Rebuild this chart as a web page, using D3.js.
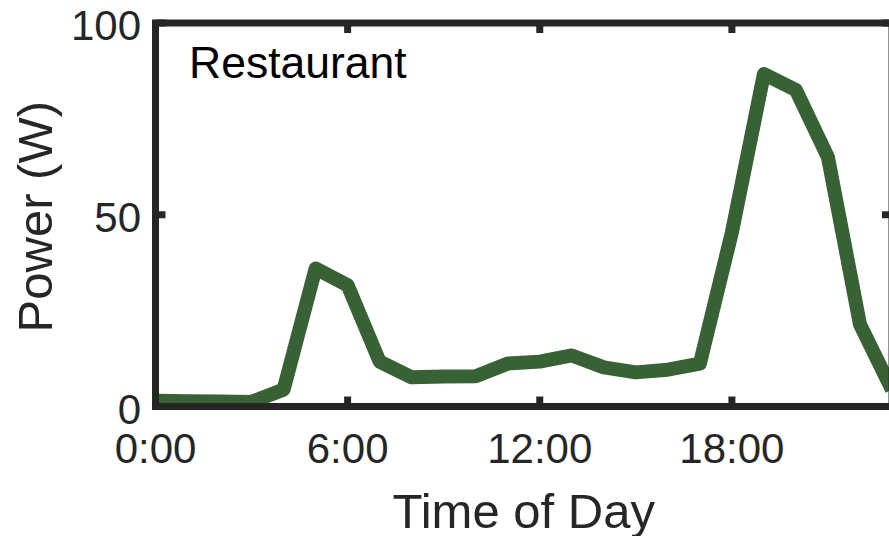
<!DOCTYPE html>
<html>
<head>
<meta charset="utf-8">
<script src="https://cdn.jsdelivr.net/npm/d3@7"></script>
<style>
	body { margin: 0; background: #fff; }
	svg { display: block; font-family: "Liberation Sans", Arial, sans-serif; }
</style>
</head>
<body>
<div id="chart"></div>
<script>

	const hours = [ 0, 1, 2, 3, 4, 5, 6, 7, 8, 9, 10, 11, 12, 13, 14, 15, 16, 17, 18, 19, 20, 21, 22, 23 ];

	const power = [ 1.5, 1.4, 1.3, 1.2, 4.4, 36, 31.6, 11.7, 7.6, 7.8, 7.9, 11.2,
					11.7, 13.3, 10.2, 8.9, 9.6, 11.2, 45.4, 86.7, 82.5, 65, 21.4, 4.4 ];

	const xTicks = [ 0, 6, 12, 18 ];
	const xTickLabels = [ "0:00", "6:00", "12:00", "18:00" ];
	const yTicks = [ 0, 50, 100 ];

	const width = 889;
	const height = 536;
	const plot = { left: 155.5, right: 892, top: 23, bottom: 406.5 };

	const axisColor = "#262626";
	const lineColor = "#386135";
	const tickSize = 10;

	const x = d3.scaleLinear()
				.domain([0, 23])
				.range([plot.left, plot.right]);

	const y = d3.scaleLinear()
				.domain([0, 100])
				.range([plot.bottom, plot.top]);

	const svg = d3.select("#chart")
				.append("svg")
					.attr("width", width)
					.attr("height", height);

	svg.append("defs")
		.append("clipPath")
			.attr("id", "plot-clip")
		.append("rect")
			.attr("x", plot.left)
			.attr("y", plot.top)
			.attr("width", plot.right - plot.left)
			.attr("height", plot.bottom - plot.top);

	// data line
	svg.append("path")
		.datum(hours.map((h, i) => [h, power[i]]))
		.attr("clip-path", "url(#plot-clip)")
		.attr("fill", "none")
		.attr("stroke", lineColor)
		.attr("stroke-width", 14)
		.attr("stroke-linejoin", "round")
		.attr("d", d3.line().x((d) => x(d[0])).y((d) => y(d[1])));

	// box
	svg.append("rect")
		.attr("x", plot.left)
		.attr("y", plot.top)
		.attr("width", plot.right - plot.left)
		.attr("height", plot.bottom - plot.top)
		.attr("fill", "none")
		.attr("stroke", axisColor)
		.attr("stroke-width", 7);

	// inward ticks on all four sides
	const ticks = svg.append("g")
					.attr("stroke", axisColor)
					.attr("stroke-width", 7);

	xTicks.forEach((t) => {
		ticks.append("line")
			.attr("x1", x(t)).attr("x2", x(t))
			.attr("y1", plot.bottom).attr("y2", plot.bottom - tickSize);
		ticks.append("line")
			.attr("x1", x(t)).attr("x2", x(t))
			.attr("y1", plot.top).attr("y2", plot.top + tickSize);
	});

	yTicks.forEach((t) => {
		ticks.append("line")
			.attr("x1", plot.left).attr("x2", plot.left + tickSize)
			.attr("y1", y(t)).attr("y2", y(t));
		ticks.append("line")
			.attr("x1", plot.right).attr("x2", plot.right - tickSize)
			.attr("y1", y(t)).attr("y2", y(t));
	});

	// tick labels
	svg.append("g")
		.selectAll("text")
			.data(xTicks).enter()
		.append("text")
			.attr("x", (d) => x(d))
			.attr("y", 463)
			.attr("text-anchor", "middle")
			.attr("font-size", 42)
			.attr("fill", axisColor)
			.text((d, i) => xTickLabels[i]);

	svg.append("g")
		.selectAll("text")
			.data(yTicks).enter()
		.append("text")
			.attr("x", 141)
			.attr("y", (d) => y(d) + 17)
			.attr("text-anchor", "end")
			.attr("font-size", 42)
			.attr("fill", axisColor)
			.text((d) => d);

	// axis titles
	svg.append("text")
		.attr("x", (plot.left + plot.right) / 2)
		.attr("y", 528)
		.attr("text-anchor", "middle")
		.attr("font-size", 49)
		.attr("fill", axisColor)
		.text("Time of Day");

	svg.append("text")
		.attr("transform", `translate(52, ${ (plot.top + plot.bottom) / 2 + 2 })rotate(-90)`)
		.attr("text-anchor", "middle")
		.attr("font-size", 49)
		.attr("fill", axisColor)
		.text("Power (W)");

	svg.append("text")
		.attr("x", 189)
		.attr("y", 78)
		.attr("font-size", 44.5)
		.attr("fill", "#000")
		.text("Restaurant");

</script>
</body>
</html>
